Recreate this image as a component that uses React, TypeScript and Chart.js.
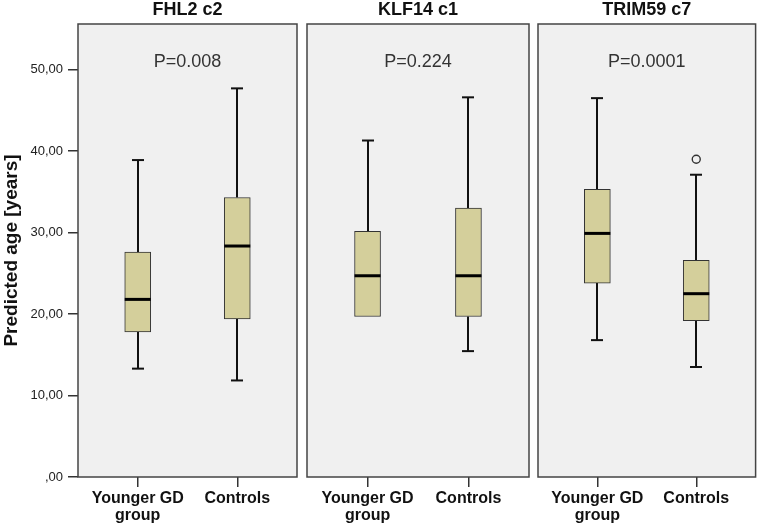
import React, { useEffect, useRef } from "react";
import { Chart, registerables } from "chart.js";

Chart.register(...registerables);

// ---- data ----
const panelTitles = ["FHL2 c2", "KLF14 c1", "TRIM59 c7"];
const pValues = ["P=0.008", "P=0.224", "P=0.0001"];
const categories = [["Younger GD", "group"], ["Controls"]];
// per panel: [Younger GD group, Controls]
const whiskerLow = [[13.3, 11.85], [19.6, 15.45], [16.8, 13.5]];
const quartile1 = [[17.8, 19.4], [19.7, 19.7], [23.8, 19.2]];
const medians = [[21.8, 28.35], [24.7, 24.7], [29.9, 22.5]];
const quartile3 = [[27.6, 34.3], [30.15, 33.0], [35.3, 26.6]];
const whiskerHigh = [[38.9, 47.7], [41.3, 46.6], [46.5, 37.1]];
// outliers: [panel, category, value]
const outliers = [[2, 1, 39.0]];
const yTicks = [0, 10, 20, 30, 40, 50];
const yTickLabels = [",00", "10,00", "20,00", "30,00", "40,00", "50,00"];
const yMax = 55.6;

const FONT = "'Liberation Sans', Arial, sans-serif";

const panelPlacement = [
  { left: 0, width: 300, padLeft: 0, padRight: 3, showY: true },
  { left: 300, width: 232, padLeft: 7, padRight: 3, showY: false },
  { left: 532, width: 229, padLeft: 6, padRight: 3, showY: false },
];

function makeBoxPlugin(p: number) {
  return {
    id: "boxplot" + p,
    beforeDraw(chart: any) {
      const { ctx, chartArea: a } = chart;
      ctx.save();
      ctx.fillStyle = "#f0f0f0";
      ctx.fillRect(a.left, a.top, a.right - a.left, a.bottom - a.top);
      ctx.restore();
    },
    beforeDatasetsDraw(chart: any) {
      const { ctx } = chart;
      const xs = chart.scales.x;
      const ys = chart.scales.y;
      ctx.save();
      ctx.strokeStyle = "#111";
      ctx.lineWidth = 2;
      for (let c = 0; c < categories.length; c++) {
        const cx = Math.round(xs.getPixelForValue(c));
        const capHalf = 6;
        const segs = [
          [quartile3[p][c], whiskerHigh[p][c]],
          [quartile1[p][c], whiskerLow[p][c]],
        ];
        for (const [from, to] of segs) {
          if (Math.abs(from - to) < 0.3) continue;
          const y1 = ys.getPixelForValue(from);
          const y2 = ys.getPixelForValue(to);
          ctx.beginPath();
          ctx.moveTo(cx, y1);
          ctx.lineTo(cx, y2);
          ctx.stroke();
          ctx.beginPath();
          ctx.moveTo(cx - capHalf, y2);
          ctx.lineTo(cx + capHalf, y2);
          ctx.stroke();
        }
      }
      ctx.restore();
    },
    afterDatasetsDraw(chart: any) {
      const { ctx, chartArea: a } = chart;
      const xs = chart.scales.x;
      const ys = chart.scales.y;
      ctx.save();
      // medians
      ctx.strokeStyle = "#000";
      ctx.lineWidth = 3;
      for (let c = 0; c < categories.length; c++) {
        const cx = xs.getPixelForValue(c);
        const y = ys.getPixelForValue(medians[p][c]);
        ctx.beginPath();
        ctx.moveTo(cx - 13, y);
        ctx.lineTo(cx + 13, y);
        ctx.stroke();
      }
      // panel border
      ctx.strokeStyle = "#444";
      ctx.lineWidth = 1.5;
      ctx.strokeRect(a.left, a.top, a.right - a.left, a.bottom - a.top);
      // titles
      const mid = (a.left + a.right) / 2;
      ctx.fillStyle = "#111";
      ctx.textAlign = "center";
      ctx.textBaseline = "middle";
      ctx.font = `bold 18px ${FONT}`;
      ctx.fillText(panelTitles[p], mid, 10);
      ctx.fillStyle = "#333";
      ctx.font = `18px ${FONT}`;
      ctx.fillText(pValues[p], mid, 62);
      ctx.restore();
    },
  };
}

function makeConfig(p: number): any {
  const place = panelPlacement[p];
  const boxData = categories.map((_, c) => ({ x: c, y: [quartile1[p][c], quartile3[p][c]] }));
  const outData = outliers.filter((o) => o[0] === p).map((o) => ({ x: o[1], y: o[2] }));
  return {
    type: "bar",
    data: {
      datasets: [
        {
          type: "bar",
          data: boxData,
          backgroundColor: "#d4cf9b",
          borderColor: "#333",
          borderWidth: 1,
          borderSkipped: false,
          barThickness: 26,
        },
        {
          type: "scatter",
          data: outData,
          pointRadius: 4,
          pointStyle: "circle",
          borderColor: "#333",
          backgroundColor: "#f0f0f0",
          borderWidth: 1.4,
        },
      ],
    },
    options: {
      responsive: false,
      animation: false,
      devicePixelRatio: 1,
      layout: { padding: { top: 24, left: place.padLeft, right: place.padRight, bottom: 0 } },
      plugins: { legend: { display: false }, tooltip: { enabled: false }, title: { display: false } },
      scales: {
        x: {
          type: "linear",
          offset: false,
          min: -0.6,
          max: 1.6,
          afterBuildTicks: (s: any) => {
            s.ticks = categories.map((_, i) => ({ value: i }));
          },
          afterFit: (s: any) => {
            s.height = 48;
          },
          ticks: {
            callback: (v: any) => categories[v] ?? "",
            font: { family: FONT, size: 16, weight: "bold", lineHeight: 1.06 },
            color: "#111",
            maxRotation: 0,
            minRotation: 0,
            autoSkip: false,
            padding: 3,
          },
          grid: { offset: false, drawOnChartArea: false, drawTicks: true, tickLength: 10, color: "#333", lineWidth: 1.5 },
          border: { display: false },
        },
        y: {
          display: place.showY,
          min: 0,
          max: yMax,
          afterBuildTicks: (s: any) => {
            s.ticks = yTicks.map((v) => ({ value: v }));
          },
          afterFit: (s: any) => {
            if (place.showY) s.width = 78;
          },
          ticks: {
            callback: (v: any) => yTickLabels[yTicks.indexOf(v)] ?? "",
            font: { family: FONT, size: 13 },
            color: "#222",
            padding: 5,
          },
          grid: { drawOnChartArea: false, drawTicks: true, tickLength: 10, color: "#333", lineWidth: 1.5 },
          border: { display: false },
          title: {
            display: true,
            text: "Predicted age [years]",
            font: { family: FONT, size: 19, weight: "bold" },
            color: "#111",
            padding: 0,
          },
        },
      },
    },
    plugins: [makeBoxPlugin(p)],
  };
}

function Panel({ p }: { p: number }) {
  const ref = useRef<HTMLCanvasElement | null>(null);
  useEffect(() => {
    if (!ref.current) return;
    const chart = new Chart(ref.current, makeConfig(p));
    return () => chart.destroy();
  }, [p]);
  const place = panelPlacement[p];
  return (
    <canvas
      ref={ref}
      width={place.width}
      height={525}
      style={{ position: "absolute", left: place.left, top: 0, width: place.width, height: 525 }}
    />
  );
}

export default function App() {
  return (
    <div style={{ position: "absolute", left: 0, top: 0, width: 761, height: 525, background: "#fff", overflow: "hidden" }}>
      {panelTitles.map((_, p) => (
        <Panel key={p} p={p} />
      ))}
    </div>
  );
}
